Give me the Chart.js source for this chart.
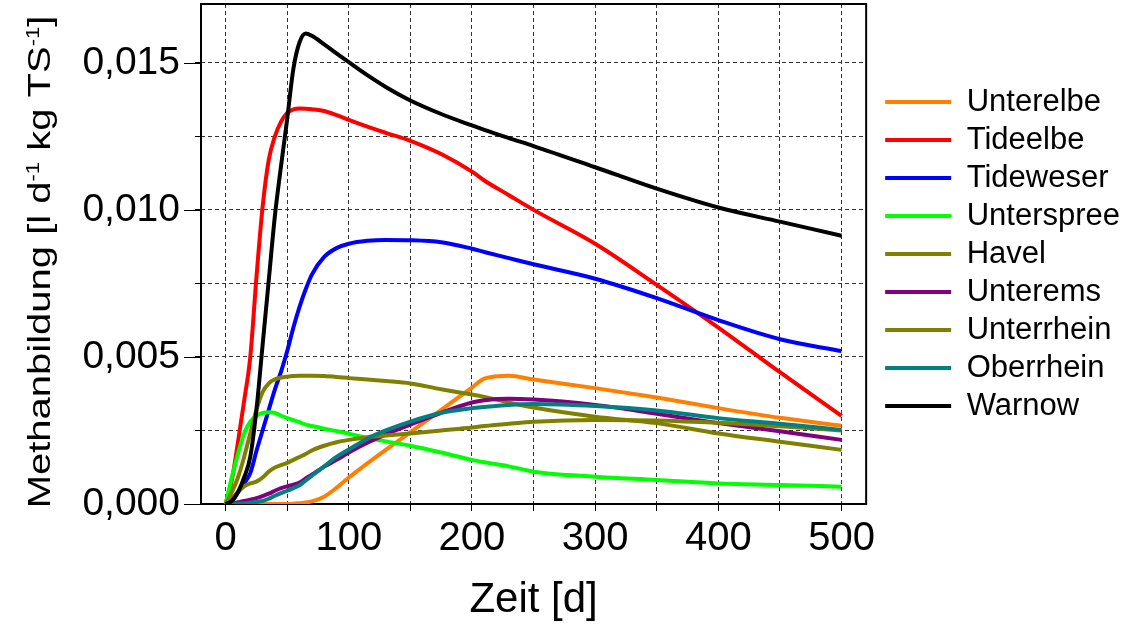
<!DOCTYPE html>
<html>
<head>
<meta charset="utf-8">
<script src="https://cdn.jsdelivr.net/npm/chart.js@4.4.1/dist/chart.umd.min.js"></script>
<style>
  body { margin: 0; background: #fff; }
  #wrap { width: 1124px; height: 624px; }
</style>
</head>
<body>
<div id="wrap"><canvas id="myChart"></canvas></div>
<script>
// days shared by all curves
const days = [0, 5, 10, 15, 20, 25, 30, 35, 40, 45, 50, 55, 60, 65, 70, 80, 90, 100, 115, 130, 150, 175, 200, 210, 230, 250, 300, 350, 400, 450, 500];

const unterelbe = [0, 0, 0, 0, 0, 0, 0, 0, 0, 0, 0, 0.00001, 0.00003, 0.00005, 0.00009, 0.00025, 0.00055, 0.0009, 0.00138, 0.00184, 0.00244, 0.0032, 0.00396, 0.00426, 0.00436, 0.00423, 0.00394, 0.00362, 0.00326, 0.00293, 0.00266];
const tideelbe = [0, 0.0008, 0.0021, 0.0035, 0.005, 0.0077, 0.0101, 0.0117, 0.0125, 0.013, 0.0133, 0.01342, 0.01345, 0.01344, 0.01342, 0.01336, 0.01322, 0.01306, 0.01283, 0.01262, 0.01235, 0.0119, 0.0113, 0.011, 0.0105, 0.01, 0.00885, 0.00745, 0.006, 0.00448, 0.003];
const tideweser = [0, 0.0001, 0.0004, 0.0007, 0.00105, 0.0018, 0.0025, 0.0032, 0.0039, 0.0045, 0.0052, 0.006, 0.0067, 0.0073, 0.0078, 0.0084, 0.0087, 0.00885, 0.00895, 0.00898, 0.00897, 0.0089, 0.00868, 0.00857, 0.00836, 0.00815, 0.00766, 0.007, 0.00625, 0.0056, 0.0052];
const unterspree = [0, 0.0009, 0.0017, 0.0024, 0.0028, 0.003, 0.0031, 0.00312, 0.0031, 0.003, 0.00292, 0.00285, 0.00278, 0.0027, 0.00265, 0.00256, 0.00248, 0.00239, 0.00225, 0.00213, 0.00198, 0.00175, 0.0015, 0.00142, 0.00128, 0.0011, 0.00093, 0.00082, 0.0007, 0.00065, 0.00059];
const havel = [0, 0.0004, 0.0009, 0.0016, 0.0024, 0.0032, 0.0038, 0.0041, 0.00424, 0.0043, 0.00433, 0.00435, 0.00436, 0.00436, 0.00436, 0.00435, 0.00432, 0.00428, 0.00423, 0.00418, 0.0041, 0.0039, 0.00372, 0.00364, 0.00345, 0.00328, 0.00297, 0.00275, 0.0024, 0.00212, 0.00184];
const unterems = [0, 0.00002, 0.00006, 0.0001, 0.00015, 0.0002, 0.00027, 0.00035, 0.00045, 0.00054, 0.0006, 0.00066, 0.00073, 0.00087, 0.001, 0.00127, 0.0015, 0.00175, 0.00208, 0.00237, 0.0027, 0.0031, 0.00345, 0.00353, 0.00358, 0.00355, 0.00337, 0.00307, 0.00275, 0.00247, 0.00218];
const unterrhein = [0, 0.0002, 0.0004, 0.0006, 0.0007, 0.00076, 0.0009, 0.0011, 0.00124, 0.00132, 0.0014, 0.0015, 0.0016, 0.0017, 0.00182, 0.00198, 0.0021, 0.00218, 0.00227, 0.00233, 0.0024, 0.0025, 0.0026, 0.00265, 0.00273, 0.0028, 0.00286, 0.00284, 0.00276, 0.00264, 0.0025];
const oberrhein = [0, 0, 0.00001, 0.00002, 0.00004, 0.00007, 0.0001, 0.00018, 0.00028, 0.00037, 0.00045, 0.00054, 0.00064, 0.0008, 0.00096, 0.00128, 0.0016, 0.00185, 0.00222, 0.0025, 0.0028, 0.0031, 0.00326, 0.0033, 0.00337, 0.0034, 0.00333, 0.00318, 0.00292, 0.00273, 0.00252];
const warnow = [0, 0.0001, 0.0004, 0.0009, 0.0016, 0.0032, 0.0054, 0.0076, 0.0098, 0.0115, 0.0131, 0.0148, 0.0157, 0.016, 0.01592, 0.01563, 0.01532, 0.01502, 0.01458, 0.01418, 0.01372, 0.01326, 0.01287, 0.01272, 0.01244, 0.01217, 0.01145, 0.01072, 0.01008, 0.0096, 0.00912];

const names = ["Unterelbe", "Tideelbe", "Tideweser", "Unterspree", "Havel", "Unterems", "Unterrhein", "Oberrhein", "Warnow"];
const colors = ["#FF8000", "#FF0000", "#0000FF", "#00FF00", "#808000", "#800080", "#808000", "#008080", "#000000"];
const series = [unterelbe, tideelbe, tideweser, unterspree, havel, unterems, unterrhein, oberrhein, warnow];

const font = "'Liberation Sans', Arial, sans-serif";

const datasets = series.map((vals, i) => ({
  label: names[i],
  data: days.map((d, j) => ({ x: d, y: vals[j] })),
  borderColor: colors[i],
  backgroundColor: colors[i],
  borderWidth: 4,
  pointRadius: 0,
  cubicInterpolationMode: "monotone",
  order: series.length - i
}));

// black box round the plot, long ticks at the labelled y values
const frame = {
  id: "frame",
  beforeDatasetsDraw(chart) {
    const { ctx, chartArea: a } = chart;
    const y = chart.scales.y;
    ctx.save();
    ctx.strokeStyle = "#000";
    ctx.lineWidth = 2;
    ctx.strokeRect(a.left, a.top, a.right - a.left, a.bottom - a.top);
    ctx.lineWidth = 1;
    y.ticks.forEach(t => {
      if (Math.round(t.value / 0.0025) % 2 === 0) {
        const py = Math.round(y.getPixelForValue(t.value)) + 0.5;
        ctx.beginPath();
        ctx.moveTo(a.left - 17, py);
        ctx.lineTo(a.left, py);
        ctx.stroke();
      }
    });
    ctx.restore();
  }
};

// y title with superscripts
const yTitle = {
  id: "yTitle",
  afterDraw(chart) {
    const c = chart.ctx;
    const parts = [["Methanbildung [l d", false], ["-1", true], [" kg TS", false], ["-1", true], ["]", false]];
    const big = "40px " + font;
    const small = "22px " + font;
    let total = 0;
    parts.forEach(p => { c.font = p[1] ? small : big; total += c.measureText(p[0]).width; });
    c.save();
    c.translate(50, 262);
    c.rotate(-Math.PI / 2);
    c.scale(1, 0.8);
    c.fillStyle = "#000";
    c.textBaseline = "alphabetic";
    let x = -total / 2;
    parts.forEach(p => {
      c.font = p[1] ? small : big;
      c.fillText(p[0], x, p[1] ? -14 : 0);
      x += c.measureText(p[0]).width;
    });
    c.restore();
  }
};

const legendShift = {
  id: "legendShift",
  afterLayout(chart) {
    chart.legend.left += 12;
    chart.legend.right += 12;
  }
};

const config = {
  type: "line",
  data: { datasets },
  options: {
    responsive: true,
    maintainAspectRatio: false,
    animation: false,
    layout: { padding: { left: 0, right: 6, top: 4, bottom: 0 } },
    scales: {
      x: {
        type: "linear",
        min: -20,
        max: 520,
        border: { display: false, dash: [4, 3] },
        grid: { color: "#333", lineWidth: 1, tickLength: 7, tickColor: "#000", tickBorderDash: [] },
        ticks: {
          stepSize: 50,
          includeBounds: false,
          autoSkip: false,
          maxRotation: 0,
          padding: 8,
          color: "#000",
          font: { family: font, size: 40, lineHeight: 1 },
          callback: v => (v % 100 === 0 ? String(v) : "")
        },
        title: {
          display: true,
          text: "Zeit [d]",
          color: "#000",
          font: { family: font, size: 42, lineHeight: 1 },
          padding: { top: 0, bottom: 3 }
        },
        afterFit: s => { s.height = 120; s.paddingLeft = 0; s.paddingRight = 0; }
      },
      y: {
        min: 0,
        max: 0.017,
        border: { display: false, dash: [4, 3] },
        grid: { color: "#333", lineWidth: 1, tickLength: 6, tickColor: "#000", tickBorderDash: [] },
        ticks: {
          stepSize: 0.0025,
          includeBounds: false,
          autoSkip: false,
          padding: 15,
          color: "#000",
          font: { family: font, size: 39 },
          callback: v => {
            const k = Math.round(v / 0.0025);
            return k % 2 === 0 ? (k * 0.0025).toFixed(3).replace(".", ",") : "";
          }
        },
        afterFit: s => { s.width = 201; s.paddingTop = 0; s.paddingBottom = 0; }
      }
    },
    plugins: {
      tooltip: { enabled: false },
      legend: {
        position: "right",
        fullSize: false,
        labels: {
          usePointStyle: true,
          pointStyle: "line",
          pointStyleWidth: 66,
          boxHeight: 4,
          padding: 7,
          color: "#000",
          font: { family: font, size: 31 },
          sort: (a, b) => a.datasetIndex - b.datasetIndex
        }
      }
    }
  },
  plugins: [frame, yTitle, legendShift]
};

const myChart = new Chart(document.getElementById("myChart").getContext("2d"), config);
</script>
</body>
</html>
